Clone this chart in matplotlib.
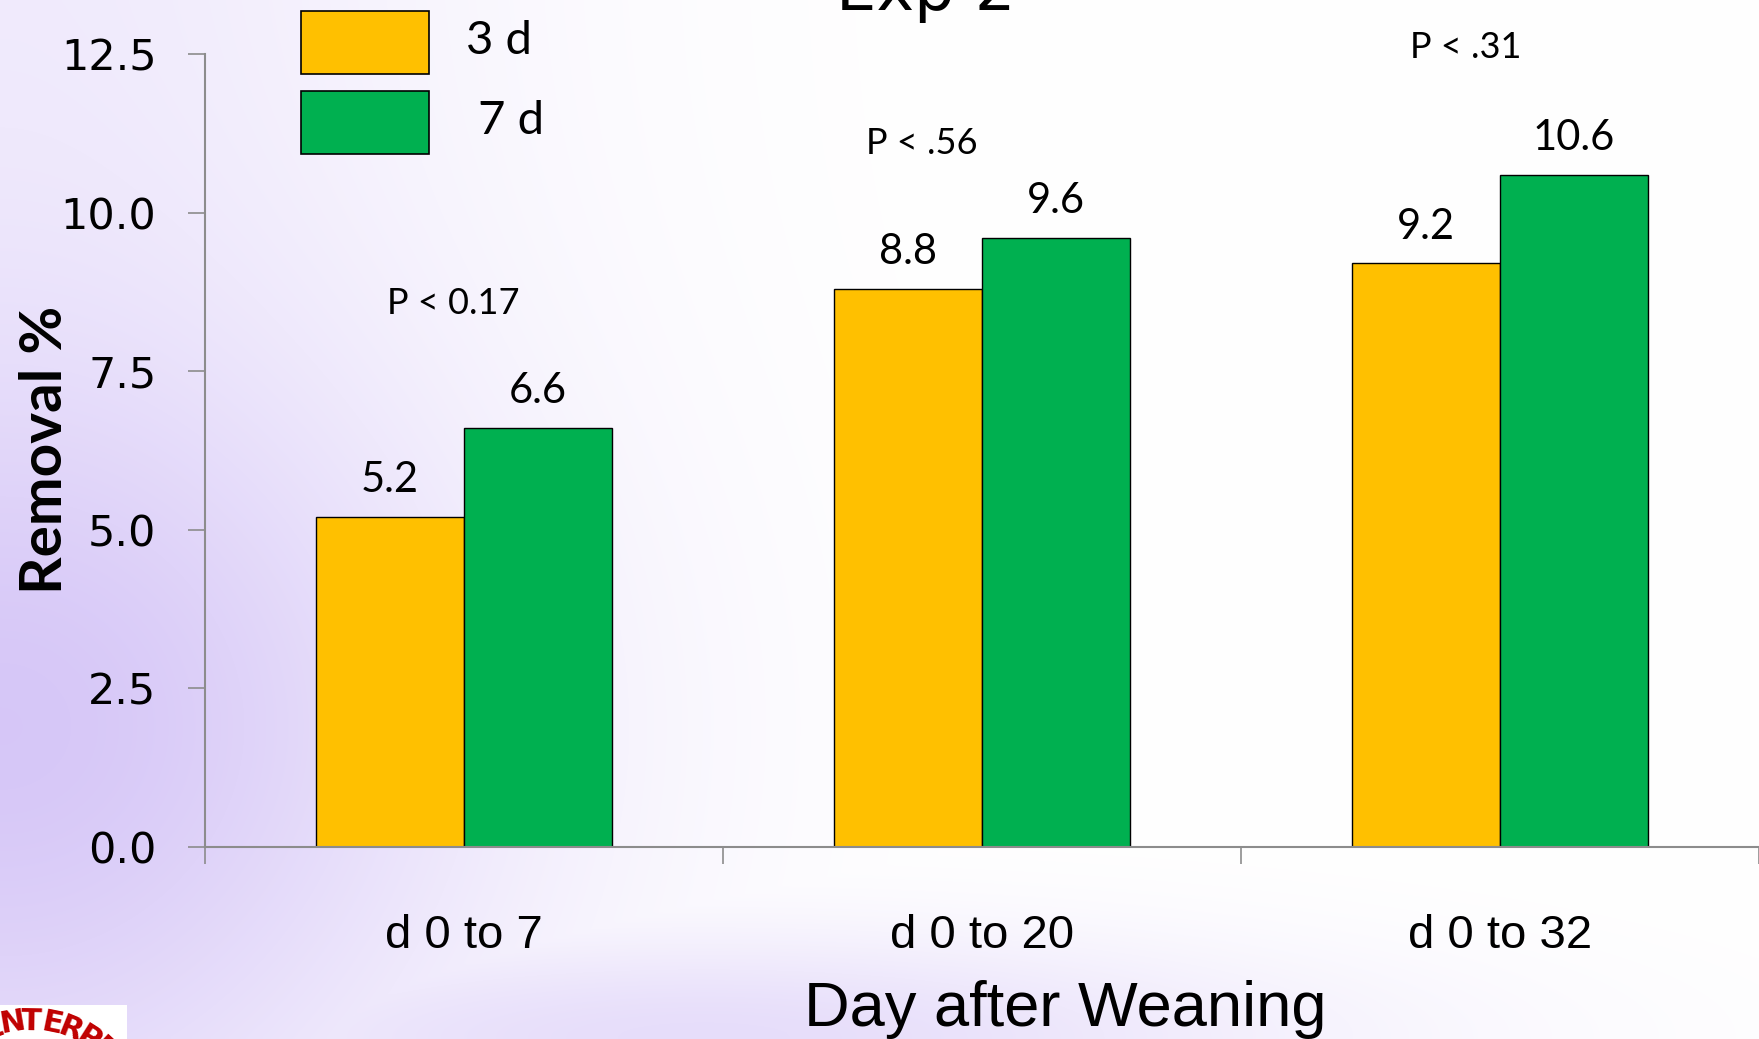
import matplotlib
matplotlib.use("Agg")
import matplotlib.pyplot as plt
from matplotlib.patches import Rectangle
import numpy as np

# data
categories = ["d 0 to 7", "d 0 to 20", "d 0 to 32"]
series_names = ["3 d", " 7 d"]
removal_3d = [5.2, 8.8, 9.2]
removal_7d = [6.6, 9.6, 10.6]
p_labels = ["P < 0.17", "P < .56", "P < .31"]
p_pos = [(-0.02, 8.56), (0.884, 11.09), (1.934, 12.61)]
yticks = [0.0, 2.5, 5.0, 7.5, 10.0, 12.5]

colors = ["#FFC000", "#00B050"]
W, H = 1759, 1039
fig = plt.figure(figsize=(W / 100, H / 100), dpi=100)

# lavender wash on the left / bottom fading to white
bg = fig.add_axes([0, 0, 1, 1], zorder=-10)
gx, gy = np.meshgrid(np.linspace(0, 1, 400), np.linspace(1, 0, 240))
w1 = np.exp(-(gx / 0.28) ** 2) * (0.35 + 0.65 * np.exp(-((gy - 0.3) / 0.35) ** 2))
w2 = 0.6 * np.exp(-(gy / 0.1) ** 2) * np.exp(-((gx - 0.4) / 0.35) ** 2)
wgt = np.clip(np.maximum(w1, w2), 0, 1)[..., None]
purple = np.array([0.84, 0.78, 0.97])
img = (1 - wgt) * np.ones(3) + wgt * purple
bg.imshow(img, extent=[0, 1, 0, 1], aspect="auto", interpolation="bilinear")
bg.set_xlim(0, 1)
bg.set_ylim(0, 1)
bg.axis("off")

ax = fig.add_axes([205 / W, 1 - 847 / H, 1 - 205 / W, (847 - 54) / H])
ax.set_facecolor("none")

x = np.arange(len(categories))
bw = 2 / 7
b1 = ax.bar(x - bw / 2, removal_3d, bw, color=colors[0], edgecolor="black", linewidth=1.0)
b2 = ax.bar(x + bw / 2, removal_7d, bw, color=colors[1], edgecolor="black", linewidth=1.0)

for bars, vals in [(b1, removal_3d), (b2, removal_7d)]:
    for rect, v in zip(bars, vals):
        ax.annotate(f"{v:.1f}", (rect.get_x() + rect.get_width() / 2, v),
                    xytext=(0, 26.5), textcoords="offset points",
                    ha="center", va="center", fontsize=30, family="Lato")

for txt, (px, py) in zip(p_labels, p_pos):
    ax.text(px, py, txt, ha="center", va="center", fontsize=26, family="Lato")

ax.set_xlim(-0.5, 2.5)
ax.set_ylim(0, 12.5)
ax.set_yticks(yticks)
ax.set_yticklabels([f"{t:.1f}" for t in yticks], fontsize=31, family="DejaVu Sans")
ax.set_xticks(x)
ax.set_xticklabels(categories, fontsize=34, family="Liberation Sans")
ax.set_xticks([-0.5, 0.5, 1.5, 2.5], minor=True)
ax.tick_params(axis="x", which="major", length=0, pad=48)
ax.tick_params(axis="x", which="minor", length=12, width=1.2, color="#8c8c8c")
ax.tick_params(axis="y", length=12, width=1.2, color="#8c8c8c", pad=23)

for s in ["top", "right"]:
    ax.spines[s].set_visible(False)
for s in ["left", "bottom"]:
    ax.spines[s].set_color("#8c8c8c")
    ax.spines[s].set_linewidth(1.5)

# legend boxes drawn in figure pixels
for i, (name, c) in enumerate(zip(series_names, colors)):
    top = [11, 91][i]
    fig.patches.append(Rectangle((301 / W, 1 - (top + 63) / H), 128 / W, 63 / H,
                                 transform=fig.transFigure, facecolor=c,
                                 edgecolor="black", linewidth=1.2))
    fig.text(466 / W, 1 - (top + 30) / H, name, ha="left", va="center",
             fontsize=34, family="Lato")

fig.text(926 / W, 1 - 10 / H, "Exp 2", ha="center", va="baseline",
         fontsize=46, family="DejaVu Sans")
fig.text(1065 / W, 1 - 1026 / H, "Day after Weaning", ha="center", va="baseline",
         fontsize=45.5, family="Liberation Sans")
fig.text(46 / W, 1 - 450 / H, "Removal %", ha="center", va="center", rotation=90,
         fontsize=42, fontweight="bold", family="Lato")

# corner badge with curved lettering
fig.patches.append(Rectangle((0, 0), 127 / W, 34 / H, transform=fig.transFigure,
                             facecolor="white", edgecolor="none"))
cx, cy, r = 30, 1130, 100
for k, ch in enumerate("ENTERPRI"):
    th = np.radians(-20 + 10.5 * k)
    px, py = cx + r * np.sin(th), cy - r * np.cos(th)
    fig.text(px / W, 1 - py / H, ch, ha="center", va="baseline",
             rotation=-np.degrees(th), rotation_mode="anchor",
             fontsize=22, fontweight="bold", color="#c00000", family="Liberation Sans Narrow")

fig.savefig("out.png", dpi=100)
